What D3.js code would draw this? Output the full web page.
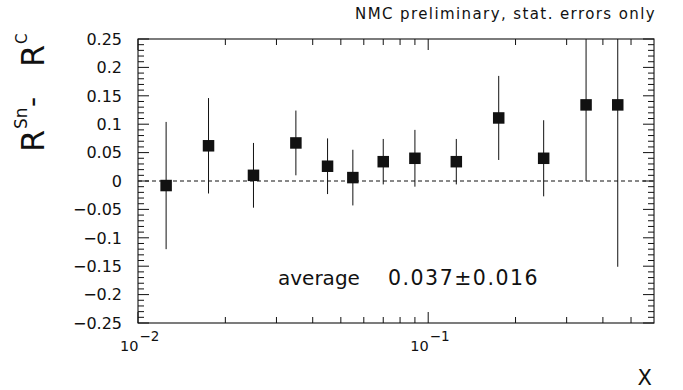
<!DOCTYPE html>
<html>
<head>
<meta charset="utf-8">
<script src="https://cdn.jsdelivr.net/npm/d3@7"></script>
<style>
  html, body { margin: 0; padding: 0; background: #fff; }
  svg { display: block; }
  text { font-family: "DejaVu Sans", sans-serif; fill: #111; }
</style>
</head>
<body>
<script>
// ---- data ----
const xValues   = [0.0125, 0.0175, 0.025, 0.035, 0.045, 0.055, 0.07, 0.09, 0.125, 0.175, 0.25, 0.35, 0.45];
const diffR     = [-0.008, 0.062, 0.010, 0.067, 0.026, 0.006, 0.034, 0.040, 0.034, 0.111, 0.040, 0.134, 0.134];
const statErr   = [0.112, 0.084, 0.057, 0.057, 0.049, 0.049, 0.040, 0.050, 0.040, 0.074, 0.067, 0.134, 0.285];
const yMajorTicks = [-0.25, -0.2, -0.15, -0.1, -0.05, 0, 0.05, 0.1, 0.15, 0.2, 0.25];
const yTickLabels = ["\u22120.25", "\u22120.2", "\u22120.15", "\u22120.1", "\u22120.05", "0", "0.05", "0.1", "0.15", "0.2", "0.25"];
const xMajorTicks = [0.01, 0.1];
const xMajorExp   = ["\u22122", "\u22121"];
const xMinorTicks = [0.02, 0.03, 0.04, 0.05, 0.06, 0.07, 0.08, 0.09, 0.2, 0.3, 0.4, 0.5];
const topNote = "NMC preliminary, stat. errors only";
const avgLabel = "average";
const avgValue = "0.037\u00B10.016";

const W = 683, H = 390;
const svg = d3.select("body").append("svg").attr("width", W).attr("height", H);

const L = 138, R = 654, T = 39, B = 323;
const x = d3.scaleLog().domain([0.01, 0.6]).range([L, R]);
const y = d3.scaleLinear().domain([-0.25, 0.25]).range([B, T]);

const ink = "#111";

// frame
svg.append("rect").attr("x", L).attr("y", T).attr("width", R - L).attr("height", B - T)
  .attr("fill", "none").attr("stroke", ink).attr("stroke-width", 1.1);

// y ticks (major every 0.05, minor every 0.01), both sides
const yMinor = d3.range(-25, 26).map(i => i / 100).filter(v => Math.abs(Math.round(v * 100) % 5) !== 0);
const yt = svg.append("g").attr("stroke", ink).attr("stroke-width", 1);
yMajorTicks.forEach(v => {
  yt.append("line").attr("x1", L).attr("x2", L + 11).attr("y1", y(v)).attr("y2", y(v));
  yt.append("line").attr("x1", R).attr("x2", R - 11).attr("y1", y(v)).attr("y2", y(v));
});
yMinor.forEach(v => {
  yt.append("line").attr("x1", L).attr("x2", L + 6).attr("y1", y(v)).attr("y2", y(v));
  yt.append("line").attr("x1", R).attr("x2", R - 6).attr("y1", y(v)).attr("y2", y(v));
});
svg.append("g").selectAll("text").data(yMajorTicks).join("text")
  .attr("x", 122).attr("y", d => y(d)).attr("dy", "0.36em")
  .attr("text-anchor", "end").attr("font-size", 16)
  .text((d, i) => yTickLabels[i]);

// x ticks top & bottom
const xt = svg.append("g").attr("stroke", ink).attr("stroke-width", 1);
xMajorTicks.forEach(v => {
  xt.append("line").attr("x1", x(v)).attr("x2", x(v)).attr("y1", B).attr("y2", B - 11);
  xt.append("line").attr("x1", x(v)).attr("x2", x(v)).attr("y1", T).attr("y2", T + 11);
});
xMinorTicks.forEach(v => {
  xt.append("line").attr("x1", x(v)).attr("x2", x(v)).attr("y1", B).attr("y2", B - 6);
  xt.append("line").attr("x1", x(v)).attr("x2", x(v)).attr("y1", T).attr("y2", T + 6);
});
xMajorTicks.forEach((v, i) => {
  const g = svg.append("g");
  g.append("text").attr("x", x(v) + 0.5).attr("y", 351).attr("text-anchor", "end")
    .attr("font-size", 14.5).text("10");
  g.append("text").attr("x", x(v) + 1.5).attr("y", 341).attr("text-anchor", "start")
    .attr("font-size", 13.5).text(xMajorExp[i]);
});

// zero dashed line
svg.append("line").attr("x1", L).attr("x2", R).attr("y1", y(0)).attr("y2", y(0))
  .attr("stroke", ink).attr("stroke-width", 1).attr("stroke-dasharray", "4,3");

// error bars (clipped to frame) and square markers
const clamp = v => Math.max(-0.25, Math.min(0.25, v));
const pts = xValues.map((xv, i) => ({ x: xv, v: diffR[i], e: statErr[i] }));
svg.append("g").selectAll("line").data(pts).join("line")
  .attr("x1", d => x(d.x)).attr("x2", d => x(d.x))
  .attr("y1", d => y(clamp(d.v + d.e))).attr("y2", d => y(clamp(d.v - d.e)))
  .attr("stroke", ink).attr("stroke-width", 1);
const S = 11.5;
svg.append("g").selectAll("rect").data(pts).join("rect")
  .attr("x", d => x(d.x) - S / 2).attr("y", d => y(d.v) - S / 2)
  .attr("width", S).attr("height", S).attr("fill", ink);

// top note
svg.append("text").attr("x", 656).attr("y", 19).attr("text-anchor", "end")
  .attr("font-size", 15).attr("letter-spacing", 1.4).text(topNote);

// average annotation
svg.append("text").attr("x", 278).attr("y", 285).attr("font-size", 20).text(avgLabel);
svg.append("text").attr("x", 388).attr("y", 285).attr("font-size", 20.5)
  .attr("letter-spacing", 1.5).text(avgValue);

// y-axis label: R^Sn - R^C (rotated)
const rot = (bx, by, txt, fs) => svg.append("text")
  .attr("transform", `translate(${bx},${by}) rotate(-90)`)
  .attr("font-size", fs).text(txt);
rot(44, 152, "R", 32);
rot(27, 129, "Sn", 17);
rot(42, 107, "-", 28);
rot(44, 67, "R", 32);
rot(27, 44, "C", 15);

// x-axis label
svg.append("text").attr("x", 652).attr("y", 385).attr("text-anchor", "end")
  .attr("font-size", 21).text("X");
</script>
</body>
</html>
